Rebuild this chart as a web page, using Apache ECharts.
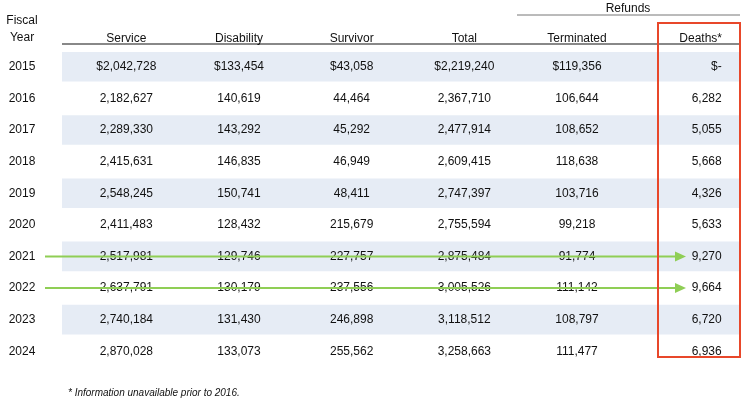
<!DOCTYPE html><html><head><meta charset="utf-8"><script src="https://cdn.jsdelivr.net/npm/echarts@6/dist/echarts.min.js"></script>
<style>html,body{margin:0;background:#fff}#c{width:746px;height:408px}</style></head><body><div id="c"></div><script>
const years=['2015','2016','2017','2018','2019','2020','2021','2022','2023','2024'];
const columns=['Service','Disability','Survivor','Total','Terminated','Deaths*'];
const service=[2042728,2182627,2289330,2415631,2548245,2411483,2517981,2637791,2740184,2870028];
const disability=[133454,140619,143292,146835,150741,128432,129746,130179,131430,133073];
const survivor=[43058,44464,45292,46949,48411,215679,227757,237556,246898,255562];
const total=[2219240,2367710,2477914,2609415,2747397,2755594,2875484,3005526,3118512,3258663];
const terminated=[119356,106644,108652,118638,103716,99218,91774,111142,108797,111477];
const deaths=[null,6282,5055,5668,4326,5633,9270,9664,6720,6936];
const arrowYears=['2021','2022'];
const FONT='Liberation Sans';
const fmt=(v,i)=>v==null?'$-':(i===0?'$':'')+v.toLocaleString('en-US');
const cells=[];
years.forEach((y,i)=>{
  cells.push([-1,i,y]);
  [service,disability,survivor,total,terminated,deaths].forEach((arr,k)=>cells.push([k,i,fmt(arr[i],i)]));
});
const stripes=years.map((y,i)=>[i]).filter(d=>d[0]%2===0);
const chart=echarts.init(document.getElementById('c'));
chart.setOption({
  animation:false,
  grid:{left:70,right:0,top:51,bottom:41},
  xAxis:{type:'category',data:columns,position:'top',axisLine:{show:false},axisTick:{show:false},
    axisLabel:{fontFamily:FONT,fontSize:12,color:'#111',margin:6,
      formatter:(v)=>v==='Deaths*'?'{r|'+v+'}':v,rich:{r:{padding:[0,0,0,22],fontFamily:FONT,fontSize:12,color:'#111'}}}},
  yAxis:{type:'category',data:years,inverse:true,show:false},
  series:[
    {type:'custom',data:stripes,z:1,renderItem:(p,api)=>{
      const c=api.coord([0,api.value(0)]);const h=api.size([1,1])[1];
      return {type:'rect',shape:{x:p.coordSys.x-8,y:c[1]-h/2+1,width:p.coordSys.width+2,height:h-2},style:{fill:'#e6ecf5'}};
    }},
    {type:'custom',data:cells,z:3,renderItem:(p,api)=>{
      const col=api.value(0),row=api.value(1);
      const t=cells[p.dataIndex][2];
      let x,align='center';const c=api.coord([Math.max(col,0),row]);
      if(col<0){x=p.coordSys.x-48;}else{x=c[0];}
      if(col===5){x+=32;align='right';}
      return {type:'text',style:{text:t,x:x,y:c[1],align:align,verticalAlign:'middle',fontFamily:FONT,fontSize:12,fill:'#111'}};
    }},
    {type:'custom',data:arrowYears.map(y=>[years.indexOf(y)]),z:5,renderItem:(p,api)=>{
      const c=api.coord([0,api.value(0)]);const y=c[1];
      return {type:'group',children:[
        {type:'line',shape:{x1:45,y1:y,x2:676,y2:y},style:{stroke:'#8fce55',lineWidth:2}},
        {type:'polygon',shape:{points:[[675,y-5],[686,y],[675,y+5]]},style:{fill:'#8fce55'}}
      ]};
    }}
  ],
  graphic:[
    {type:'text',style:{text:'Fiscal\nYear',x:22,y:29,align:'center',verticalAlign:'middle',lineHeight:17,fontFamily:FONT,fontSize:12,fill:'#111'}},
    {type:'line',shape:{x1:62,y1:44,x2:740,y2:44},style:{stroke:'#888',lineWidth:2}},
    {type:'line',shape:{x1:517,y1:15,x2:740,y2:15},style:{stroke:'#777',lineWidth:1}},
    {type:'text',style:{text:'Refunds',x:628,y:9,align:'center',verticalAlign:'middle',fontFamily:FONT,fontSize:12,fill:'#111'}},
    {type:'rect',z:10,shape:{x:658,y:23,width:82,height:334},style:{fill:'none',stroke:'#e8472a',lineWidth:2}},
    {type:'text',style:{text:'* Information unavailable prior to 2016.',x:68,y:393,verticalAlign:'middle',fontFamily:FONT,fontSize:10,fontStyle:'italic',fill:'#111'}}
  ]
});
</script></body></html>
